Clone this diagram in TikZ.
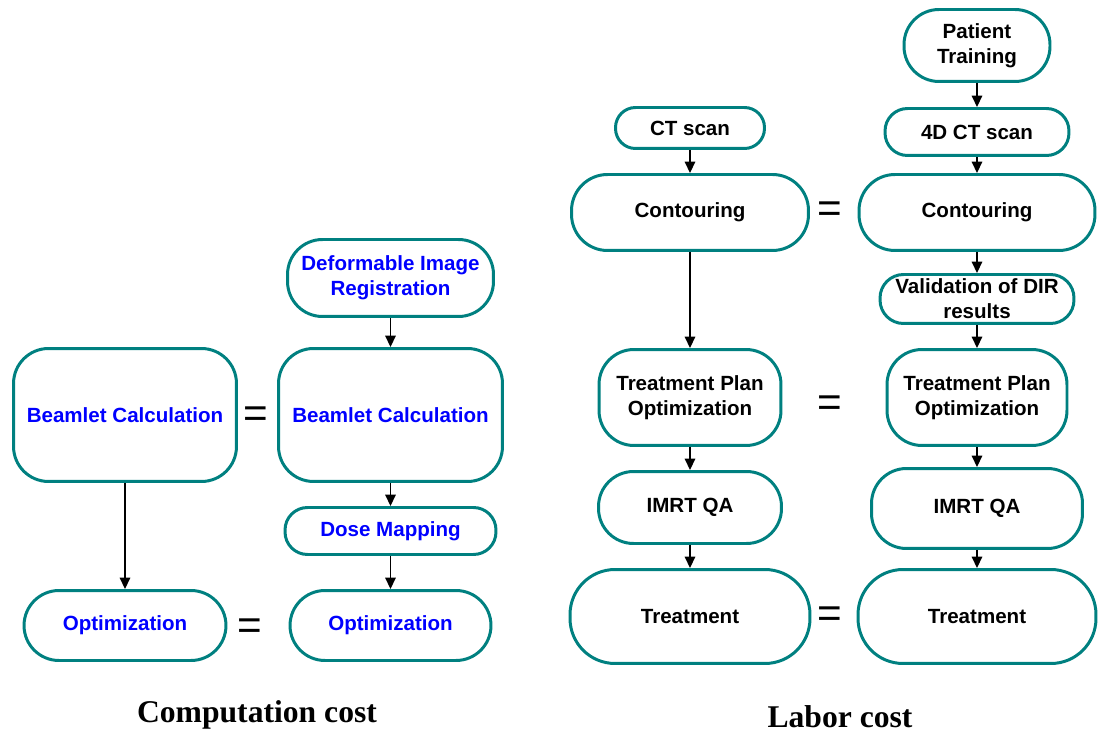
\documentclass[tikz,border=0pt]{standalone}
\usepackage{fontspec}
\setmainfont{Liberation Serif}
\setsansfont{Liberation Sans}
\usepackage{tikz}
\usetikzlibrary{arrows.meta}
\usepackage{xcolor}
\definecolor{boxteal}{RGB}{0,128,128}

\begin{document}
\begin{tikzpicture}[x=0.02cm,y=-0.02cm,
    flow/.style={draw=boxteal,line width=1.7pt,fill=white,rounded corners=0.7cm,align=center,inner sep=0pt,
        font=\sffamily\bfseries\fontsize{11.7}{14.4}\selectfont},
    comp/.style={flow,text=blue},
    labor/.style={flow,text=black},
    link/.style={-{Triangle[length=6.5pt,width=6pt]},line width=0.8pt},
    same/.style={font=\sffamily\fontsize{24}{24}\selectfont},
    caption/.style={font=\rmfamily\bfseries\fontsize{18}{20}\selectfont}]
                    \useasboundingbox (0,0) rectangle (1099,736);
                    \node[comp,minimum width=4.46cm,minimum height=2.66cm] (beamA) at (125,415) {Beamlet Calculation};
                    \node[comp,minimum width=4.48cm,minimum height=2.66cm] (beamB) at (390.5,415) {Beamlet Calculation};
                    \node[comp,minimum width=4.12cm,minimum height=1.54cm] (dir) at (390.5,278) {Deformable Image\\Registration};
                    \node[comp,minimum width=4.22cm,minimum height=0.94cm,rounded corners=0.45cm] (dose) at (390.5,531) {Dose Mapping};
                    \node[comp,minimum width=4.04cm,minimum height=1.40cm] (optA) at (125,625.5) {Optimization};
                    \node[comp,minimum width=4.02cm,minimum height=1.40cm] (optB) at (390.5,625.5) {Optimization};
                    \node[same] (eqBeam) at (256,417) {=};
                    \node[same] (eqOpt) at (250,629) {=};
                    \draw[link] (beamA) -- (optA);
                    \draw[link] (dir) -- (beamB);
                    \draw[link] (beamB) -- (dose);
                    \draw[link] (dose) -- (optB);
                    \node[caption] (compCost) at (257,715) {Computation cost};
                    \node[labor,minimum width=2.92cm,minimum height=1.44cm] (patient) at (977,45.5) {Patient\\Training};
                    \node[labor,minimum width=2.98cm,minimum height=0.82cm,rounded corners=0.4cm] (ct) at (690,128) {CT scan};
                    \node[labor,minimum width=3.68cm,minimum height=0.94cm,rounded corners=0.45cm] (ctB) at (977,132) {4D CT scan};
                    \node[labor,minimum width=4.74cm,minimum height=1.52cm,rounded corners=0.72cm] (cont) at (690,212.5) {Contouring};
                    \node[labor,minimum width=4.72cm,minimum height=1.52cm,rounded corners=0.72cm] (contB) at (977,212.5) {Contouring};
                    \node[labor,minimum width=3.88cm,minimum height=0.98cm,rounded corners=0.47cm] (valid) at (977,299) {Validation of DIR\\results};
                    \node[labor,minimum width=3.64cm,minimum height=1.92cm] (tpo) at (690,397.5) {Treatment Plan\\Optimization};
                    \node[labor,minimum width=3.60cm,minimum height=1.92cm] (tpoB) at (977,397.5) {Treatment Plan\\Optimization};
                    \node[labor,minimum width=3.66cm,minimum height=1.44cm] (qa) at (690,507.5) {IMRT QA};
                    \node[labor,minimum width=4.22cm,minimum height=1.60cm] (qaB) at (977,508.5) {IMRT QA};
                    \node[labor,minimum width=4.80cm,minimum height=1.88cm,rounded corners=0.9cm] (treat) at (690,616.5) {Treatment};
                    \node[labor,minimum width=4.76cm,minimum height=1.88cm,rounded corners=0.9cm] (treatB) at (977,616.5) {Treatment};
                    \node[same] (eqCont) at (830,212) {=};
                    \node[same] (eqTpo) at (830,406) {=};
                    \node[same] (eqTreat) at (830,617) {=};
                    \draw[link] (ct) -- (cont);
                    \draw[link] (cont) -- (tpo);
                    \draw[link] (tpo) -- (qa);
                    \draw[link] (qa) -- (treat);
                    \draw[link] (patient) -- (ctB);
                    \draw[link] (ctB) -- (contB);
                    \draw[link] (contB) -- (valid);
                    \draw[link] (valid) -- (tpoB);
                    \draw[link] (tpoB) -- (qaB);
                    \draw[link] (qaB) -- (treatB);
                    \node[caption] (laborCost) at (840,717) {Labor cost};
                \end{tikzpicture}
\end{document}
